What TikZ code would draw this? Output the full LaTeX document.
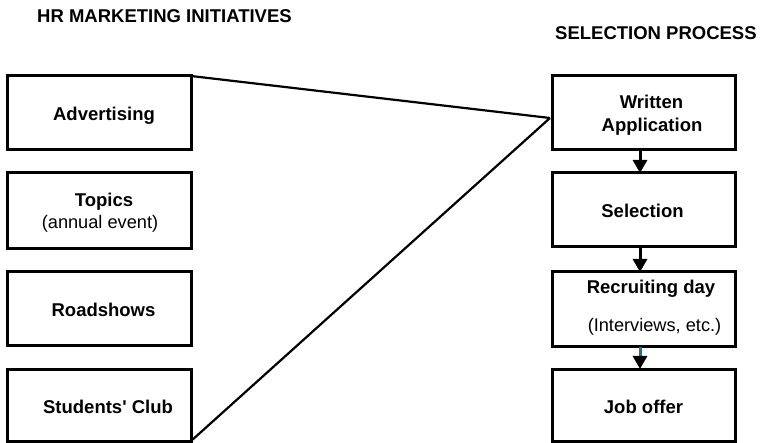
\documentclass[tikz,border=0pt]{standalone}
\usepackage{fontspec}
\setmainfont{Liberation Sans}
\usetikzlibrary{arrows.meta}
\definecolor{tealshaft}{HTML}{2A6F8F}
\begin{document}
\begin{tikzpicture}[x=1pt,y=-1pt,
  box/.style={draw,line width=3pt,rectangle,minimum width=184pt,inner sep=0pt,outer sep=0pt},
  lbl/.style={anchor=base,inner sep=0pt,font=\fontsize{18.5pt}{22pt}\selectfont\bfseries},
  sub/.style={anchor=base,inner sep=0pt,font=\fontsize{18.2pt}{22pt}\selectfont},
  ttl/.style={anchor=base west,inner sep=0pt,font=\fontsize{18.5pt}{22pt}\selectfont\bfseries},
  conn/.style={line width=2.2pt},
  flow/.style={line width=3pt,-{Triangle[width=14pt,length=13pt]}}]
\useasboundingbox (0,0) rectangle (760,443);
% titles
\node[ttl] (t1) at (37,22.7) {HR MARKETING INITIATIVES};
\node[ttl] (t2) at (555,40) {SELECTION PROCESS};
% left boxes
\node[box,minimum height=74pt] (adv) at (99,113) {};
\node[box,minimum height=76pt] (top) at (99,211) {};
\node[box,minimum height=74pt] (road) at (99,309) {};
\node[box,minimum height=72pt] (stu) at (99,405) {};
% right boxes
\node[box,minimum width=183pt,minimum height=74pt] (wa) at (643.5,113) {};
\node[box,minimum width=183pt,minimum height=74pt] (sel) at (643.5,210) {};
\node[box,minimum width=183pt,minimum height=75pt] (rec) at (643.5,309.5) {};
\node[box,minimum width=183pt,minimum height=72pt] (job) at (643.5,405) {};
% texts
\node[lbl] (advt) at (104,120.7) {Advertising};
\node[lbl] (topt) at (104,206.7) {Topics};
\node[sub] (tops) at (100,228.3) {(annual event)};
\node[lbl] (roadt) at (103.5,316.7) {Roadshows};
\node[lbl] (stut) at (108,413) {Students\textquotesingle{} Club};
\node[lbl] (wat1) at (651.5,109) {Written};
\node[lbl] (wat2) at (652,132) {Application};
\node[lbl] (selt) at (642.5,218) {Selection};
\node[lbl] (rect) at (651,294) {Recruiting day};
\node[sub] (recs) at (654.5,331.7) {(Interviews, etc.)};
\node[lbl] (jobt) at (643.5,413) {Job offer};
% connectors
\coordinate (meet) at ([xshift=-2pt,yshift=-5pt]wa.west);
\draw[conn] (adv.north east) -- (meet);
\draw[conn] (stu.south east) -- (meet);
\draw[flow] ([xshift=-3.5pt]wa.south) -- ([xshift=-3.5pt]sel.north);
\draw[flow] ([xshift=-3.5pt]sel.south) -- ([xshift=-3.5pt]rec.north);
\draw[line width=3pt,tealshaft] ([xshift=-3.5pt]rec.south) -- ++(0,9) coordinate (mid);
\draw[flow] (mid) -- ([xshift=-3.5pt]job.north);
\end{tikzpicture}
\end{document}
